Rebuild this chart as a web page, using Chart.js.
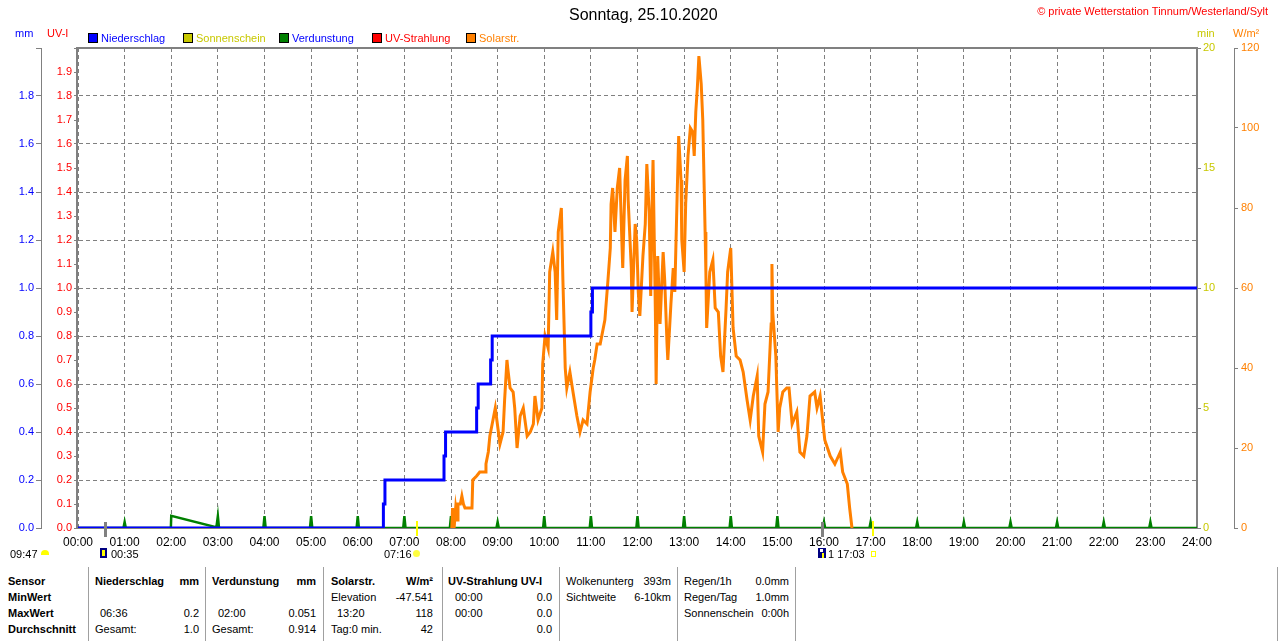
<!DOCTYPE html>
<html>
<head>
<meta charset="utf-8">
<title>Wetterstation Tinnum - Sonntag, 25.10.2020</title>
<script src="https://cdn.jsdelivr.net/npm/chart.js@4.4.1/dist/chart.umd.min.js"></script>
<style>
  body { margin: 0; background: #fff; width: 1280px; height: 641px; overflow: hidden; position: relative;
         font-family: "Liberation Sans", Arial, sans-serif; font-size: 11px; color: #000; }
  #wrap { position: absolute; left: 0; top: 0; width: 1280px; height: 560px; }
  .t { position: absolute; white-space: nowrap; line-height: 13px; }
  .b { font-weight: bold; }
  .sep { position: absolute; top: 567px; height: 74px; width: 1px; background: #a0a0a0; }
  .box { position: absolute; top: 33px; width: 8px; height: 8px; border: 1px solid #000; }
</style>
</head>
<body>
<div id="wrap"><canvas id="wetterChart"></canvas></div>

<!-- header -->
<div class="t" style="left:569px;top:6px;font-size:16px;line-height:18px;">Sonntag, 25.10.2020</div>
<div class="t" style="right:12px;top:5px;color:#ff0000;">&copy; private Wetterstation Tinnum/Westerland/Sylt</div>
<div class="t" style="left:15px;top:27px;color:#0000ff;">mm</div>
<div class="t" style="left:47px;top:27px;color:#ff0000;">UV-I</div>
<div class="t" style="left:1197px;top:27px;color:#c8c800;">min</div>
<div class="t" style="left:1233px;top:27px;color:#ff8000;">W/m&sup2;</div>
<div id="legend"></div>

<!-- sun / moon times under the axis -->
<div class="t" style="left:10px;top:548px;">09:47</div>
<div style="position:absolute;left:41px;top:550px;width:8px;height:5px;background:#ffff00;border-radius:4px 4px 0 0;"></div>
<div style="position:absolute;left:100px;top:548px;width:7px;height:10px;background:#000080;"></div>
<div style="position:absolute;left:102px;top:550px;width:3px;height:6px;background:#ffff00;"></div>
<div class="t" style="left:111px;top:548px;">00:35</div>
<div class="t" style="left:384px;top:548px;">07:16</div>
<div style="position:absolute;left:413px;top:550px;width:7px;height:7px;background:#ffff40;border-radius:50%;"></div>
<div style="position:absolute;left:818px;top:548px;width:8px;height:10px;background:#000080;"></div>
<div style="position:absolute;left:820px;top:549px;width:3px;height:3px;background:#ffffff;"></div>
<div style="position:absolute;left:822px;top:553px;width:2px;height:5px;background:#ffff00;"></div>
<div class="t" style="left:828px;top:548px;">1 17:03</div>
<div style="position:absolute;left:871px;top:551px;width:3px;height:4px;border:1px solid #ffff00;"></div>

<!-- table -->
<div class="sep" style="left:88px"></div>
<div class="sep" style="left:205px"></div>
<div class="sep" style="left:323px"></div>
<div class="sep" style="left:442px"></div>
<div class="sep" style="left:559px"></div>
<div class="sep" style="left:677px"></div>
<div class="sep" style="left:795px"></div>
<div class="sep" style="left:1277px"></div>

<div class="t b" style="left:8px;top:575px;">Sensor</div>
<div class="t b" style="left:8px;top:591px;">MinWert</div>
<div class="t b" style="left:8px;top:607px;">MaxWert</div>
<div class="t b" style="left:8px;top:623px;">Durchschnitt</div>

<div class="t b" style="left:95px;top:575px;">Niederschlag</div>
<div class="t b" style="right:1081px;top:575px;">mm</div>
<div class="t" style="left:100px;top:607px;">06:36</div>
<div class="t" style="right:1081px;top:607px;">0.2</div>
<div class="t" style="left:95px;top:623px;">Gesamt:</div>
<div class="t" style="right:1081px;top:623px;">1.0</div>

<div class="t b" style="left:212px;top:575px;">Verdunstung</div>
<div class="t b" style="right:964px;top:575px;">mm</div>
<div class="t" style="left:218px;top:607px;">02:00</div>
<div class="t" style="right:964px;top:607px;">0.051</div>
<div class="t" style="left:212px;top:623px;">Gesamt:</div>
<div class="t" style="right:964px;top:623px;">0.914</div>

<div class="t b" style="left:331px;top:575px;">Solarstr.</div>
<div class="t b" style="right:847px;top:575px;">W/m&sup2;</div>
<div class="t" style="left:331px;top:591px;">Elevation</div>
<div class="t" style="right:847px;top:591px;">-47.541</div>
<div class="t" style="left:337px;top:607px;">13:20</div>
<div class="t" style="right:847px;top:607px;">118</div>
<div class="t" style="left:331px;top:623px;">Tag:0 min.</div>
<div class="t" style="right:847px;top:623px;">42</div>

<div class="t b" style="left:448px;top:575px;">UV-Strahlung UV-I</div>
<div class="t" style="left:455px;top:591px;">00:00</div>
<div class="t" style="right:728px;top:591px;">0.0</div>
<div class="t" style="left:455px;top:607px;">00:00</div>
<div class="t" style="right:728px;top:607px;">0.0</div>
<div class="t" style="right:728px;top:623px;">0.0</div>

<div class="t" style="left:566px;top:575px;">Wolkenunterg</div>
<div class="t" style="right:609px;top:575px;">393m</div>
<div class="t" style="left:566px;top:591px;">Sichtweite</div>
<div class="t" style="right:609px;top:591px;">6-10km</div>

<div class="t" style="left:684px;top:575px;">Regen/1h</div>
<div class="t" style="right:491px;top:575px;">0.0mm</div>
<div class="t" style="left:684px;top:591px;">Regen/Tag</div>
<div class="t" style="right:491px;top:591px;">1.0mm</div>
<div class="t" style="left:684px;top:607px;">Sonnenschein</div>
<div class="t" style="right:491px;top:607px;">0:00h</div>

<script>
// x values are minutes after midnight

// Niederschlag (mm, cumulative)
const rainMin = [0, 393, 395, 471, 473, 513, 515, 531, 533, 660, 662, 1440];
const rainMm  = [0, 0.1, 0.2, 0.3, 0.4, 0.5, 0.6, 0.7, 0.8, 0.9, 1.0, 1.0];

// Verdunstung (mm)
const evapMin = [0, 58.5, 60, 61.5, 119.5, 120, 177, 178, 178.5, 180, 181.5,
  238.5, 240, 241.5, 298.5, 300, 301.5, 358.5, 360, 361.5, 418.5, 420, 421.5,
  478.5, 480, 481.5, 538.5, 540, 541.5, 598.5, 600, 601.5, 658.5, 660, 661.5,
  718.5, 720, 721.5, 778.5, 780, 781.5, 838.5, 840, 841.5, 898.5, 900, 901.5,
  958.5, 960, 961.5, 1018.5, 1020, 1021.5, 1078.5, 1080, 1081.5, 1138.5, 1140, 1141.5,
  1198.5, 1200, 1201.5, 1258.5, 1260, 1261.5, 1318.5, 1320, 1321.5, 1378.5, 1380, 1381.5, 1440];
const evapMm = [0, 0, 0.025, 0, 0, 0.051, 0.004, 0, 0, 0.05, 0,
  0, 0.05, 0, 0, 0.05, 0, 0, 0.05, 0, 0, 0.05, 0,
  0, 0.05, 0, 0, 0.025, 0, 0, 0.05, 0, 0, 0.05, 0,
  0, 0.05, 0, 0, 0.05, 0, 0, 0.05, 0, 0, 0.05, 0,
  0, 0.025, 0, 0, 0.025, 0, 0, 0.025, 0, 0, 0.025, 0,
  0, 0.025, 0, 0, 0.025, 0, 0, 0.025, 0, 0, 0.025, 0, 0];

// Sonnenschein (min) and UV-Strahlung (UV-I): nothing all day
const sunMin = [0, 1440];
const sunVal = [0, 0];
const uvMin = [0, 1440];
const uvVal = [0, 0];

// Solarstrahlung (W/m²)
const solarMin = [481, 482, 484, 486, 488, 489, 492, 494, 496, 498, 507, 508, 513, 517, 524, 525, 528, 530,
  534, 537, 539, 543, 547, 549, 552, 553, 556, 560, 562, 565, 569, 573, 578, 582, 586, 588, 592, 597,
  598, 601, 605, 607, 611, 614, 616, 618, 622, 624, 627, 629, 633, 637, 642, 646, 650, 655, 659, 663,
  665, 668, 672, 678, 682, 685, 686, 688, 691, 694, 697, 700, 701, 704, 707, 708, 712, 713, 717, 719,
  721, 723, 727, 730, 732, 735, 737, 739, 740, 743, 744, 746, 749, 753, 755, 758, 759, 763, 766, 768,
  771, 773, 776, 777, 780, 782, 785, 788, 791, 793, 795, 797, 799, 802, 804, 807, 808, 809, 813, 817,
  820, 824, 827, 830, 834, 836, 840, 843, 847, 852, 856, 861, 865, 869, 874, 876, 881, 884, 888, 892,
  893, 894, 898, 901, 903, 907, 912, 915, 919, 925, 929, 934, 938, 942, 948, 951, 955, 961, 968, 974,
  981, 984, 990, 993, 996];
const solarWm2 = [0, 5, 0, 5, 2, 6, 6, 8, 6, 5, 5, 12, 13, 14, 14, 16, 19, 23,
  27, 30, 27, 21, 24, 32, 42, 40, 35, 34, 30, 20, 28, 30, 23, 24, 26, 33, 27, 30,
  41, 48, 45, 64, 69, 64, 52, 74, 80, 62, 40, 35, 39, 34, 28, 24, 27, 26, 34, 40,
  42, 46, 46, 52, 62, 70, 81, 85, 74, 85, 90, 71, 65, 87, 93, 82, 65, 54, 76, 72,
  59, 53, 68, 76, 91, 79, 58, 83, 92, 54, 36, 68, 51, 69, 62, 46, 42, 56, 65, 59,
  83, 98, 87, 72, 64, 81, 93, 100, 99, 93, 104, 110, 118, 111, 102, 74, 64, 50, 64, 67,
  55, 54, 43, 39, 55, 64, 70, 50, 43, 42, 39, 32, 27, 33, 38, 23, 19, 31, 34, 51,
  66, 54, 43, 24, 30, 34, 35, 35, 26, 29, 19, 18, 23, 33, 34, 30, 33, 22, 18, 16,
  19, 14, 11, 5, 0];

// sunrise / sunset and moon times (minutes)
const sunMarks = [436, 1023];
const moonMarks = [35, 958];

const legendNames  = ['Niederschlag', 'Sonnenschein', 'Verdunstung', 'UV-Strahlung', 'Solarstr.'];
const legendBoxes  = ['#0000ff', '#c8c800', '#008000', '#ff0000', '#ff8000'];
const legendTexts  = ['#0000ff', '#c8c800', '#0000ff', '#ff0000', '#ff8000'];
const legendLeft   = [88, 183, 279, 372, 466];

function pts(xs, ys) {
  return xs.map((x, i) => ({ x: x, y: ys[i] }));
}

function hhmm(v) {
  const h = Math.floor(v / 60);
  const m = Math.round(v % 60);
  return String(h).padStart(2, '0') + ':' + String(m).padStart(2, '0');
}

document.addEventListener('DOMContentLoaded', function() {
  // legend
  const legend = document.getElementById('legend');
  legendNames.forEach((name, i) => {
    const box = document.createElement('div');
    box.className = 'box';
    box.style.left = legendLeft[i] + 'px';
    box.style.background = legendBoxes[i];
    legend.appendChild(box);
    const txt = document.createElement('div');
    txt.className = 't';
    txt.style.left = (legendLeft[i] + 13) + 'px';
    txt.style.top = '32px';
    txt.style.color = legendTexts[i];
    txt.textContent = name;
    legend.appendChild(txt);
  });

  Chart.defaults.font.family = '"Liberation Sans", Arial, sans-serif';
  Chart.defaults.font.size = 11;

  const GRID = '#808080';

  // frame round the plot and sun/moon marks on the time axis
  const framePlugin = {
    id: 'frame',
    beforeDatasetsDraw(chart) {
      const { ctx, chartArea: a } = chart;
      const l = Math.round(a.left), r = Math.round(a.right);
      const t = Math.round(a.top), b = Math.round(a.bottom);
      ctx.save();
      ctx.fillStyle = GRID;
      ctx.fillRect(l - 2, t - 1, r - l + 3, 2);   // top
      ctx.fillRect(l - 2, b - 1, r - l + 3, 2);   // bottom
      ctx.fillRect(l - 2, t - 1, 2, b - t + 2);   // left
      ctx.fillRect(r - 1, t - 1, 2, b - t + 2);   // right
      ctx.restore();
    },
    afterDraw(chart) {
      const { ctx, chartArea: a } = chart;
      const x = chart.scales.x;
      ctx.save();
      moonMarks.forEach(m => {
        ctx.fillStyle = '#808080';
        ctx.fillRect(Math.round(x.getPixelForValue(m)) - 1, a.bottom - 6, 3, 15);
      });
      sunMarks.forEach(m => {
        ctx.fillStyle = '#ffff00';
        ctx.fillRect(Math.round(x.getPixelForValue(m)) - 1, a.bottom - 7, 2, 15);
      });
      ctx.restore();
    }
  };

  const ctx = document.getElementById('wetterChart').getContext('2d');
  new Chart(ctx, {
    type: 'line',
    data: {
      datasets: [
        {
          label: 'Niederschlag',
          data: pts(rainMin, rainMm),
          yAxisID: 'mm',
          borderColor: '#0000ff',
          borderWidth: 3,
          stepped: true,
          order: 0
        },
        {
          label: 'Solarstr.',
          data: pts(solarMin, solarWm2),
          yAxisID: 'wm2',
          borderColor: '#ff8000',
          borderWidth: 3,
          order: 1
        },
        {
          label: 'Verdunstung',
          data: pts(evapMin, evapMm),
          yAxisID: 'mm',
          borderColor: '#008000',
          borderWidth: 2.5,
          order: 2
        },
        {
          label: 'UV-Strahlung',
          data: pts(uvMin, uvVal),
          yAxisID: 'uv',
          borderColor: '#ff0000',
          borderWidth: 2,
          order: 3
        },
        {
          label: 'Sonnenschein',
          data: pts(sunMin, sunVal),
          yAxisID: 'min',
          borderColor: '#c8c800',
          borderWidth: 2,
          order: 4
        }
      ]
    },
    options: {
      responsive: true,
      maintainAspectRatio: false,
      animation: false,
      layout: { padding: { top: 48, left: 0, right: 0, bottom: 0 } },
      elements: {
        point: { radius: 0, hoverRadius: 0 },
        line: { tension: 0, fill: false, borderJoinStyle: 'miter' }
      },
      plugins: {
        legend: { display: false },
        title: { display: false },
        tooltip: { enabled: false }
      },
      scales: {
        x: {
          type: 'linear',
          min: 0,
          max: 1440,
          afterFit(s) { s.height = 32; },
          ticks: {
            stepSize: 60,
            maxTicksLimit: 30,
            autoSkip: false,
            maxRotation: 0,
            padding: 7,
            color: '#000',
            font: { size: 12 },
            callback: v => hhmm(v)
          },
          grid: { color: GRID, drawTicks: false, lineWidth: 1 },
          border: { display: false, dash: [4, 3] }
        },
        mm: {
          position: 'left',
          weight: 1,
          min: 0,
          max: 2,
          afterFit(s) { s.width = 41; },
          ticks: {
            stepSize: 0.2,
            padding: 2,
            color: '#0000ff',
            callback: v => v >= 1.99 ? '' : v.toFixed(1)
          },
          grid: { color: GRID, tickColor: GRID, tickLength: 5, lineWidth: 1 },
          border: { display: true, color: GRID, width: 1, dash: [4, 3] }
        },
        uv: {
          position: 'left',
          weight: 0,
          min: 0,
          max: 2,
          afterFit(s) { s.width = 37; },
          ticks: {
            stepSize: 0.1,
            maxTicksLimit: 30,
            autoSkip: false,
            padding: 2,
            color: '#ff0000',
            callback: v => v >= 1.99 ? '' : v.toFixed(1)
          },
          grid: { drawOnChartArea: false, tickColor: GRID, tickLength: 4 },
          border: { display: false }
        },
        min: {
          position: 'right',
          weight: 0,
          min: 0,
          max: 20,
          afterFit(s) { s.width = 37; },
          ticks: { stepSize: 5, padding: 2, color: '#c8c800' },
          grid: { drawOnChartArea: false, tickColor: GRID, tickLength: 4 },
          border: { display: false }
        },
        wm2: {
          position: 'right',
          weight: 1,
          min: 0,
          max: 120,
          afterFit(s) { s.width = 46; },
          ticks: { stepSize: 20, padding: 3, color: '#ff8000' },
          grid: { drawOnChartArea: false, tickColor: GRID, tickLength: 4 },
          border: { display: true, color: GRID, width: 1 }
        }
      }
    },
    plugins: [framePlugin]
  });
});
</script>
</body>
</html>
